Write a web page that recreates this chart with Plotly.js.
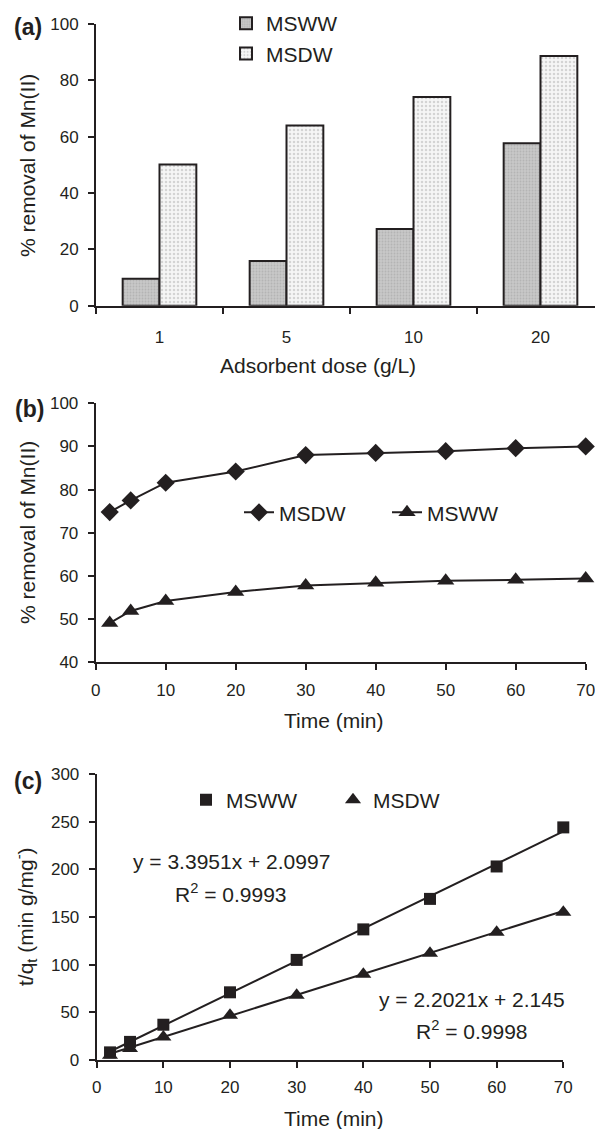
<!DOCTYPE html>
<html>
<head>
<meta charset="utf-8">
<script src="https://cdn.plot.ly/plotly-3.0.1.min.js"></script>
<style>
html, body { margin: 0; padding: 0; overflow: hidden; background: #fff; width: 595px; height: 1129px; }
#chart { width: 620px; height: 1129px; }
</style>
</head>
<body>
<div id="chart"></div>
<script>
// ---------- data ----------
const doseLabels = ['1', '5', '10', '20'];
const removalMSWW = [9.6, 15.9, 27.2, 57.7];
const removalMSDW = [50.1, 64.0, 74.1, 88.6];

const timeB = [2, 5, 10, 20, 30, 40, 50, 60, 70];
const removalTimeMSDW = [74.8, 77.5, 81.6, 84.2, 88.0, 88.5, 88.9, 89.6, 90.0];
const removalTimeMSWW = [49.1, 51.9, 54.2, 56.3, 57.8, 58.4, 58.9, 59.1, 59.4];

const timeC = [2, 5, 10, 20, 30, 40, 50, 60, 70];
const tqMSWW = [8, 19, 37, 71, 105, 137, 169, 203, 244];
const tqMSDW = [5, 12, 24, 47, 68, 90, 112, 134, 155];
const fitSlope = { MSWW: 3.3951, MSDW: 2.2021 };
const fitIntercept = { MSWW: 2.0997, MSDW: 2.145 };
const fitR2 = { MSWW: '0.9993', MSDW: '0.9998' };

// ---------- geometry helpers ----------
const W = 620, H = 1129;
const px = x => x / W;
const py = y => 1 - y / H;
const FONT = 'Liberation Sans, Arial, sans-serif';
const INK = '#231f20';
const TICKF = { family: FONT, size: 17, color: INK };
const TXTF = { family: FONT, size: 21, color: INK };
const LEGF = { family: FONT, size: 21, color: INK };

const fitLine = (key, xs) => {
  const x0 = xs[0], x1 = xs[xs.length - 1];
  return { x: [x0, x1], y: [fitSlope[key] * x0 + fitIntercept[key], fitSlope[key] * x1 + fitIntercept[key]] };
};

// ---------- traces ----------
const traces = [
  { type: 'bar', name: 'MSWW', x: doseLabels, y: removalMSWW, xaxis: 'x', yaxis: 'y', legend: 'legend',
    marker: { color: '#c4c4c4', line: { color: INK, width: 2 },
      pattern: { shape: '.', fgcolor: '#b4b4b4', bgcolor: '#c8c8c8', size: 3, solidity: 0.3 } } },
  { type: 'bar', name: 'MSDW', x: doseLabels, y: removalMSDW, xaxis: 'x', yaxis: 'y', legend: 'legend',
    marker: { color: '#f2f2f2', line: { color: INK, width: 2 },
      pattern: { shape: '.', fgcolor: '#d4d4d4', bgcolor: '#f6f6f6', size: 4, solidity: 0.3 } } },

  { type: 'scatter', mode: 'lines+markers', name: 'MSDW', x: timeB, y: removalTimeMSDW, xaxis: 'x2', yaxis: 'y2', legend: 'legend2',
    cliponaxis: false, line: { color: INK, width: 2 }, marker: { symbol: 'diamond', size: 14, color: INK } },
  { type: 'scatter', mode: 'lines+markers', name: 'MSWW', x: timeB, y: removalTimeMSWW, xaxis: 'x2', yaxis: 'y2', legend: 'legend2',
    cliponaxis: false, line: { color: INK, width: 2 }, marker: { symbol: 'triangle-up', size: 15, color: INK } },

  Object.assign({ type: 'scatter', mode: 'lines', showlegend: false, xaxis: 'x3', yaxis: 'y3', cliponaxis: false,
    line: { color: INK, width: 2 } }, fitLine('MSWW', timeC)),
  Object.assign({ type: 'scatter', mode: 'lines', showlegend: false, xaxis: 'x3', yaxis: 'y3', cliponaxis: false,
    line: { color: INK, width: 2 } }, fitLine('MSDW', timeC)),
  { type: 'scatter', mode: 'markers', name: 'MSWW', x: timeC, y: tqMSWW, xaxis: 'x3', yaxis: 'y3', legend: 'legend3',
    cliponaxis: false, marker: { symbol: 'square', size: 12, color: INK } },
  { type: 'scatter', mode: 'markers', name: 'MSDW', x: timeC, y: tqMSDW, xaxis: 'x3', yaxis: 'y3', legend: 'legend3',
    cliponaxis: false, marker: { symbol: 'triangle-up', size: 14, color: INK } }
];

// ---------- axes ----------
const baseAxis = {
  showgrid: false, zeroline: false, showline: true, linecolor: INK, linewidth: 2,
  ticks: 'outside', ticklen: 6, tickwidth: 2, tickcolor: INK, tickfont: TICKF, fixedrange: true
};

const ann = (text, x, y, extra) => Object.assign({
  text: text, x: px(x), y: py(y), xref: 'paper', yref: 'paper', showarrow: false,
  xanchor: 'center', yanchor: 'middle', font: TXTF
}, extra || {});
const PANELF = { family: FONT, size: 23, color: INK };

const layout = {
  width: W, height: H,
  margin: { l: 0, r: 0, t: 0, b: 0 },
  paper_bgcolor: '#ffffff', plot_bgcolor: 'rgba(0,0,0,0)',
  font: TXTF,
  barmode: 'group', bargap: 0.42, bargroupgap: 0,
  xaxis: Object.assign({}, baseAxis, { domain: [px(96), px(604)], anchor: 'y', type: 'category',
    range: [-0.5, 3.5], tickson: 'boundaries', ticklabelstandoff: 15 }),
  yaxis: Object.assign({}, baseAxis, { domain: [py(305.7), py(24)], anchor: 'x', range: [0, 100],
    tickvals: [0, 20, 40, 60, 80, 100], ticklabelstandoff: 6 }),
  xaxis2: Object.assign({}, baseAxis, { domain: [px(95.7), px(585.7)], anchor: 'y2', range: [0, 70],
    tickvals: [0, 10, 20, 30, 40, 50, 60, 70], ticklabelstandoff: 5 }),
  yaxis2: Object.assign({}, baseAxis, { domain: [py(662.3), py(403.3)], anchor: 'x2', range: [40, 100],
    tickvals: [40, 50, 60, 70, 80, 90, 100], ticklabelstandoff: 6 }),
  xaxis3: Object.assign({}, baseAxis, { domain: [px(96.7), px(563.3)], anchor: 'y3', range: [0, 70],
    tickvals: [0, 10, 20, 30, 40, 50, 60, 70], ticklabelstandoff: 5 }),
  yaxis3: Object.assign({}, baseAxis, { domain: [py(1060), py(774)], anchor: 'x3', range: [0, 300],
    tickvals: [0, 50, 100, 150, 200, 250, 300], ticklabelstandoff: 6 }),

  legend: { x: px(226), y: py(3), xanchor: 'left', yanchor: 'top', orientation: 'v',
    font: LEGF, bgcolor: 'rgba(0,0,0,0)', tracegroupgap: 0, itemwidth: 30 },
  legend2: { x: px(239), y: py(512.7), xanchor: 'left', yanchor: 'middle', orientation: 'h',
    font: LEGF, bgcolor: 'rgba(0,0,0,0)', entrywidth: 103, itemwidth: 30 },
  legend3: { x: px(186), y: py(800), xanchor: 'left', yanchor: 'middle', orientation: 'h',
    font: LEGF, bgcolor: 'rgba(0,0,0,0)', entrywidth: 102, itemwidth: 30 },

  annotations: [
    ann('<b>(a)</b>', 28, 27, { font: PANELF }),
    ann('<b>(b)</b>', 29, 409, { font: PANELF }),
    ann('<b>(c)</b>', 28, 781, { font: PANELF }),

    ann('% removal of Mn(II)', 27, 166, { textangle: -90 }),
    ann('Adsorbent dose (g/L)', 317.5, 365.7),

    ann('% removal of Mn(II)', 27, 533, { textangle: -90 }),
    ann('Time (min)', 334, 720.5),

    ann('t/q<sub>t</sub> (min g/mg<sup>-</sup>)', 25, 917, { textangle: -90 }),
    ann('Time (min)', 334, 1118),

    ann('y = ' + fitSlope.MSWW.toFixed(4) + 'x + ' + fitIntercept.MSWW.toFixed(4), 231, 861.7),
    ann('R<sup>2</sup> = ' + fitR2.MSWW, 231, 893),
    ann('y = ' + fitSlope.MSDW.toFixed(4) + 'x + ' + String(fitIntercept.MSDW), 472, 999.3),
    ann('R<sup>2</sup> = ' + fitR2.MSDW, 472, 1030)
  ]
};

Plotly.newPlot('chart', traces, layout, { staticPlot: true, displayModeBar: false });
</script>
</body>
</html>
